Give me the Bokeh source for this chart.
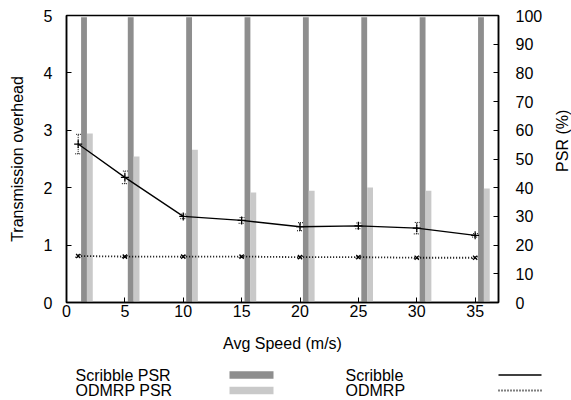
import math
from bokeh.plotting import figure
from bokeh.models import (ColumnDataSource, Range1d, LinearAxis, SingleIntervalTicker,
                          Whisker, TeeHead)
from bokeh.transform import dodge
from bokeh.layouts import column, row
from bokeh.embed import file_html
from bokeh.resources import INLINE
from bokeh.core.properties import value

# ---- data ----
speed = [1, 5, 10, 15, 20, 25, 30, 35]
scribble_overhead = [2.76, 2.18, 1.50, 1.43, 1.32, 1.335, 1.295, 1.17]
scribble_err = [0.17, 0.11, 0.04, 0.05, 0.07, 0.05, 0.10, 0.03]
odmrp_overhead = [0.81, 0.80, 0.80, 0.80, 0.79, 0.79, 0.78, 0.78]
odmrp_err = [0.02, 0.015, 0.015, 0.015, 0.015, 0.015, 0.015, 0.015]
scribble_psr = [99.4, 99.4, 99.4, 99.4, 99.4, 99.4, 99.4, 99.4]
odmrp_psr = [58.9, 50.9, 53.2, 38.3, 38.9, 40.1, 38.9, 39.7]

legend_bar_labels = ["Scribble PSR", "ODMRP PSR"]
legend_line_labels = ["Scribble", "ODMRP"]
right_title = "PSR (%)"

FONT = "Liberation Sans"
DARK = "#8e8e8e"
LIGHT = "#c9c9c9"

src = ColumnDataSource(dict(
    speed=speed,
    s=scribble_overhead,
    s_up=[v + e for v, e in zip(scribble_overhead, scribble_err)],
    s_lo=[v - e for v, e in zip(scribble_overhead, scribble_err)],
    o=odmrp_overhead,
    o_up=[v + e for v, e in zip(odmrp_overhead, odmrp_err)],
    o_lo=[v - e for v, e in zip(odmrp_overhead, odmrp_err)],
    spsr=scribble_psr,
    opsr=odmrp_psr,
))

W = 571
MAIN_W = 548
MAIN_H = 362
p = figure(width=MAIN_W, height=MAIN_H, output_backend="svg", toolbar_location=None,
           x_range=Range1d(0, 37), y_range=Range1d(0, 5),
           min_border_left=66, min_border_right=MAIN_W - 498, min_border_top=15,
           min_border_bottom=60)
p.extra_y_ranges = {"psr": Range1d(0, 100)}
p.xgrid.visible = False
p.ygrid.visible = False
p.outline_line_color = "black"
p.outline_line_width = 1.5
p.background_fill_color = "white"
p.border_fill_color = "white"

# bars
p.vbar(x=dodge("speed", 0.5), top="spsr", width=0.5, source=src, y_range_name="psr",
       fill_color=DARK, line_color=None)
p.vbar(x=dodge("speed", 1.0), top="opsr", width=0.5, source=src, y_range_name="psr",
       fill_color=LIGHT, line_color=None)

# error bars
for up, lo in (("s_up", "s_lo"), ("o_up", "o_lo")):
    w = Whisker(source=src, base="speed", upper=up, lower=lo,
                line_color="black", line_width=1, line_dash="1 1",
                upper_head=TeeHead(size=6, line_color="black", line_width=1, line_dash="1 1"),
                lower_head=TeeHead(size=6, line_color="black", line_width=1, line_dash="1 1"))
    p.add_layout(w)

# lines
p.line("speed", "s", source=src, line_color="black", line_width=1.3)
p.scatter("speed", "s", source=src, marker="cross", size=8, line_color="black", line_width=1.2)
p.line("speed", "o", source=src, line_color="black", line_width=1.8, line_dash="1 2")
p.scatter("speed", "o", source=src, marker="x", size=6, line_color="black", line_width=1.2)

# axes
def style_axis(ax, interval):
    ax.ticker = SingleIntervalTicker(interval=interval)
    ax.minor_tick_line_color = None
    ax.major_tick_in = 5
    ax.major_tick_out = 0
    ax.major_tick_line_color = "black"
    ax.major_tick_line_width = 1
    ax.axis_line_color = "black"
    ax.axis_line_width = 1.5
    ax.major_label_text_font = FONT
    ax.major_label_text_font_size = "16px"
    ax.major_label_text_color = "black"
    ax.axis_label_text_font = FONT
    ax.axis_label_text_font_size = "16px"
    ax.axis_label_text_font_style = "normal"
    ax.axis_label_text_color = "black"

xa = p.xaxis[0]
style_axis(xa, 5)
xa.axis_label = "Avg Speed (m/s)"
xa.major_label_standoff = -2
xa.axis_label_standoff = 15

ya = p.yaxis[0]
style_axis(ya, 1)
ya.axis_label = "Transmission overhead"
ya.major_label_standoff = 10
ya.axis_label_standoff = 15

ra = LinearAxis(y_range_name="psr")
style_axis(ra, 10)
ra.major_label_standoff = 13
p.add_layout(ra, "right")

# ---- right title strip (text reads bottom-to-top) ----
RW = W - MAIN_W
rf = figure(width=RW, height=MAIN_H, output_backend="svg", toolbar_location=None,
            x_range=Range1d(0, RW), y_range=Range1d(MAIN_H, 0),
            min_border_left=0, min_border_right=0, min_border_top=0, min_border_bottom=0)
rf.axis.visible = False
rf.xgrid.visible = False
rf.ygrid.visible = False
rf.outline_line_color = None
rf.background_fill_color = "white"
rf.border_fill_color = "white"
rf.text(x=[561.5 - MAIN_W], y=[158], text=[right_title], angle=math.pi / 2,
        text_font=value(FONT), text_font_size="16px", text_align="center",
        text_baseline="middle", text_color="black")

# ---- legend strip ----
LH = 400 - MAIN_H
leg = figure(width=W, height=LH, output_backend="svg", toolbar_location=None,
             x_range=Range1d(0, W), y_range=Range1d(LH, 0),
             min_border_left=0, min_border_right=0, min_border_top=0, min_border_bottom=0)
leg.axis.visible = False
leg.xgrid.visible = False
leg.ygrid.visible = False
leg.outline_line_color = None
leg.background_fill_color = "white"
leg.border_fill_color = "white"

row_mid = [12.5, 28]
leg.text(x=[75, 75], y=row_mid, text=legend_bar_labels, text_font=value(FONT),
         text_font_size="16px", text_baseline="middle", text_align="left", text_color="black")
leg.text(x=[345, 345], y=row_mid, text=legend_line_labels, text_font=value(FONT),
         text_font_size="16px", text_baseline="middle", text_align="left", text_color="black")
leg.rect(x=[251, 251], y=row_mid, width=44, height=7.6, fill_color=[DARK, LIGHT], line_color=None)
leg.segment(x0=[498], y0=[row_mid[0]], x1=[541], y1=[row_mid[0]], line_color="black", line_width=1.3)
leg.segment(x0=[498], y0=[row_mid[1]], x1=[541], y1=[row_mid[1]], line_color="black",
            line_width=1.8, line_dash="1 2")

layout = column(row(p, rf, spacing=0), leg, spacing=0)
open("out.html", "w").write(file_html(layout, INLINE))
